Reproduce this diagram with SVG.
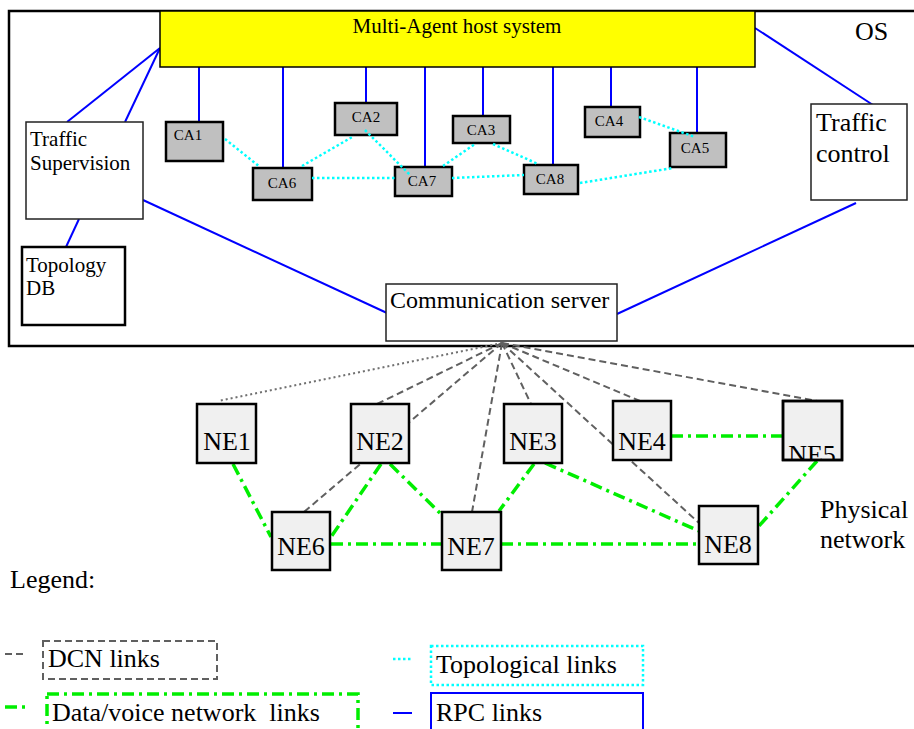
<svg xmlns="http://www.w3.org/2000/svg" width="914" height="729" viewBox="0 0 914 729">
<defs>
<style>
text{font-family:"Liberation Serif","Times New Roman",serif;fill:#000}
.rpc{stroke:#0000ff;stroke-width:2;fill:none}
.topo{stroke:#00ffff;stroke-width:2.5;stroke-dasharray:2.5 2.5;fill:none}
.dcn{stroke:#606060;stroke-width:2;stroke-dasharray:7 4;fill:none}
.dot{stroke:#707070;stroke-width:2;stroke-dasharray:2 3;fill:none}
.data{stroke:#00ee00;stroke-width:3.5;stroke-dasharray:12 5 3 5;fill:none}
.ca rect{fill:#c0c0c0;stroke:#000;stroke-width:2.5}
.ca text{font-size:15px;text-anchor:middle}
.ne rect{fill:#f0f0f0;stroke:#000;stroke-width:2.5}
.ne text{font-size:26px;text-anchor:middle}
.box{fill:#fff;stroke:#222;stroke-width:1.5}
.lg{font-size:26px}
</style>
<clipPath id="ne5clip"><rect x="783" y="401" width="59" height="59"/></clipPath>
</defs>
<rect width="914" height="729" fill="#fff"/>
<g id="os">
<rect x="9" y="11" width="920" height="335" fill="none" stroke="#000" stroke-width="2.5"/>
<text x="855" y="40" class="lg">OS</text>
</g>
<g id="connectors">
<line class="rpc" x1="160" y1="48" x2="67" y2="122"/>
<line class="rpc" x1="160" y1="48" x2="125" y2="122" stroke-width="3"/>
<line class="rpc" x1="79" y1="219" x2="66" y2="247" stroke-width="2.5"/>
<line class="rpc" x1="143" y1="200" x2="387" y2="313"/>
<line class="rpc" x1="617" y1="314" x2="856" y2="203"/>
<line class="rpc" x1="755" y1="28" x2="873" y2="105"/>
<line class="rpc" x1="199" y1="67" x2="199" y2="122"/>
<line class="rpc" x1="283" y1="67" x2="283" y2="168"/>
<line class="rpc" x1="366" y1="67" x2="366" y2="103"/>
<line class="rpc" x1="425" y1="64" x2="425" y2="167"/>
<line class="rpc" x1="483" y1="67" x2="483" y2="116"/>
<line class="rpc" x1="553" y1="67" x2="553" y2="165"/>
<line class="rpc" x1="611" y1="67" x2="611" y2="107"/>
<line class="rpc" x1="697" y1="67" x2="697" y2="133"/>
<line class="dot" x1="502" y1="343" x2="218" y2="401"/>
<line class="dcn" x1="502" y1="343" x2="377" y2="404"/>
<line class="dcn" x1="502" y1="343" x2="304" y2="512"/>
<line class="dcn" x1="502" y1="343" x2="472" y2="512"/>
<line class="dcn" x1="502" y1="343" x2="531" y2="404"/>
<line class="dcn" x1="502" y1="343" x2="699" y2="523"/>
<line class="dcn" x1="502" y1="343" x2="640" y2="401"/>
<line class="dcn" x1="502" y1="343" x2="817" y2="401"/>
<line class="data" x1="233" y1="464" x2="271" y2="537"/>
<line class="data" x1="381" y1="464" x2="331" y2="537"/>
<line class="data" x1="390" y1="464" x2="442" y2="515"/>
<line class="data" x1="331" y1="544" x2="442" y2="544"/>
<line class="data" x1="534" y1="464" x2="499" y2="511"/>
<line class="data" x1="545" y1="463" x2="699" y2="531"/>
<line class="data" x1="501" y1="544" x2="699" y2="544"/>
<line class="data" x1="671" y1="436" x2="783" y2="436"/>
<line class="data" x1="817" y1="461" x2="759" y2="526"/>
</g>
<g id="multi-agent-host">
<rect x="160" y="11" width="595" height="56" fill="#ffff00" stroke="#000" stroke-width="1.5"/>
<text x="457" y="33" font-size="21" text-anchor="middle">Multi-Agent host system</text>
</g>
<g id="traffic-supervision">
<rect class="box" x="26" y="122" width="117" height="97"/>
<text x="30" y="146" font-size="21">Traffic</text>
<text x="30" y="170" font-size="21">Supervision</text>
</g>
<g id="topology-db">
<rect x="22" y="247" width="103" height="78" fill="#fff" stroke="#000" stroke-width="2.5"/>
<text x="26" y="272" font-size="21">Topology</text>
<text x="26" y="295" font-size="21">DB</text>
</g>
<g id="communication-server">
<rect class="box" x="386" y="284" width="231" height="57"/>
<text x="390" y="308" font-size="24">Communication server</text>
</g>
<g id="traffic-control">
<rect class="box" x="811" y="104" width="96" height="96"/>
<text x="816" y="131" font-size="26">Traffic</text>
<text x="816" y="162" font-size="26">control</text>
</g>
<g id="ca1" class="ca"><rect x="166" y="122" width="57" height="39" stroke-width="1.5"/><text x="188" y="140">CA1</text></g>
<g id="ca2" class="ca"><rect x="335" y="103" width="62" height="32"/><text x="366" y="122">CA2</text></g>
<g id="ca3" class="ca"><rect x="453" y="116" width="57" height="27"/><text x="481" y="135">CA3</text></g>
<g id="ca4" class="ca"><rect x="585" y="107" width="55" height="30"/><text x="609" y="126">CA4</text></g>
<g id="ca5" class="ca"><rect x="670" y="133" width="56" height="34"/><text x="695" y="153">CA5</text></g>
<g id="ca6" class="ca"><rect x="253" y="168" width="59" height="32"/><text x="282" y="188">CA6</text></g>
<g id="ca7" class="ca"><rect x="395" y="167" width="57" height="29"/><text x="422" y="186">CA7</text></g>
<g id="ca8" class="ca"><rect x="524" y="165" width="54" height="29"/><text x="550" y="184">CA8</text></g>
<g id="topological-links">
<line class="topo" x1="225" y1="139" x2="260" y2="167"/>
<line class="topo" x1="302" y1="166" x2="354" y2="136"/>
<line class="topo" x1="365" y1="130" x2="410" y2="175"/>
<line class="topo" x1="312" y1="178" x2="395" y2="178"/>
<line class="topo" x1="443" y1="166" x2="475" y2="144"/>
<line class="topo" x1="493" y1="144" x2="538" y2="164"/>
<line class="topo" x1="452" y1="178" x2="524" y2="175"/>
<line class="topo" x1="580" y1="183" x2="673" y2="168"/>
<line class="topo" x1="639" y1="117" x2="695" y2="137"/>
</g>
<g id="ne1" class="ne"><rect x="197" y="404" width="59" height="59"/><text x="227" y="450">NE1</text></g>
<g id="ne2" class="ne"><rect x="351" y="404" width="58" height="59"/><text x="380" y="450">NE2</text></g>
<g id="ne3" class="ne"><rect x="504" y="404" width="58" height="59"/><text x="533" y="450">NE3</text></g>
<g id="ne4" class="ne"><rect x="613" y="401" width="58" height="59"/><text x="642" y="450">NE4</text></g>
<g id="ne5" class="ne"><rect x="783" y="401" width="59" height="59"/><text x="812" y="463" clip-path="url(#ne5clip)">NE5</text><rect x="783" y="401" width="59" height="59" style="fill:none"/></g>
<g id="ne6" class="ne"><rect x="272" y="512" width="58" height="58"/><text x="301" y="555">NE6</text></g>
<g id="ne7" class="ne"><rect x="442" y="512" width="59" height="58"/><text x="471" y="555">NE7</text></g>
<g id="ne8" class="ne"><rect x="699" y="506" width="59" height="58"/><text x="728" y="553">NE8</text></g>
<g id="physical-network">
<text x="820" y="518" class="lg">Physical</text>
<text x="820" y="548" class="lg">network</text>
</g>
<g id="legend">
<text x="10" y="588" class="lg">Legend:</text>
<line class="dcn" x1="5" y1="654" x2="24" y2="654" stroke-dasharray="6 4"/>
<rect class="dcn" x="43" y="641" width="174" height="38"/>
<text x="48" y="667" class="lg">DCN links</text>
<line class="data" x1="5" y1="707" x2="26" y2="707" stroke-dasharray="10 5 3 5"/>
<rect class="data" x="47" y="694" width="311" height="50" stroke-width="2.5"/>
<text x="52" y="721" class="lg" xml:space="preserve">Data/voice network  links</text>
<line class="topo" x1="393" y1="659" x2="412" y2="659"/>
<rect class="topo" x="431" y="646" width="212" height="39"/>
<text x="436" y="673" class="lg">Topological links</text>
<line class="rpc" x1="393" y1="713" x2="412" y2="713" stroke-width="2.5"/>
<rect class="rpc" x="431" y="693" width="212" height="50" stroke-width="2.5"/>
<text x="436" y="721" class="lg">RPC links</text>
</g>
</svg>
